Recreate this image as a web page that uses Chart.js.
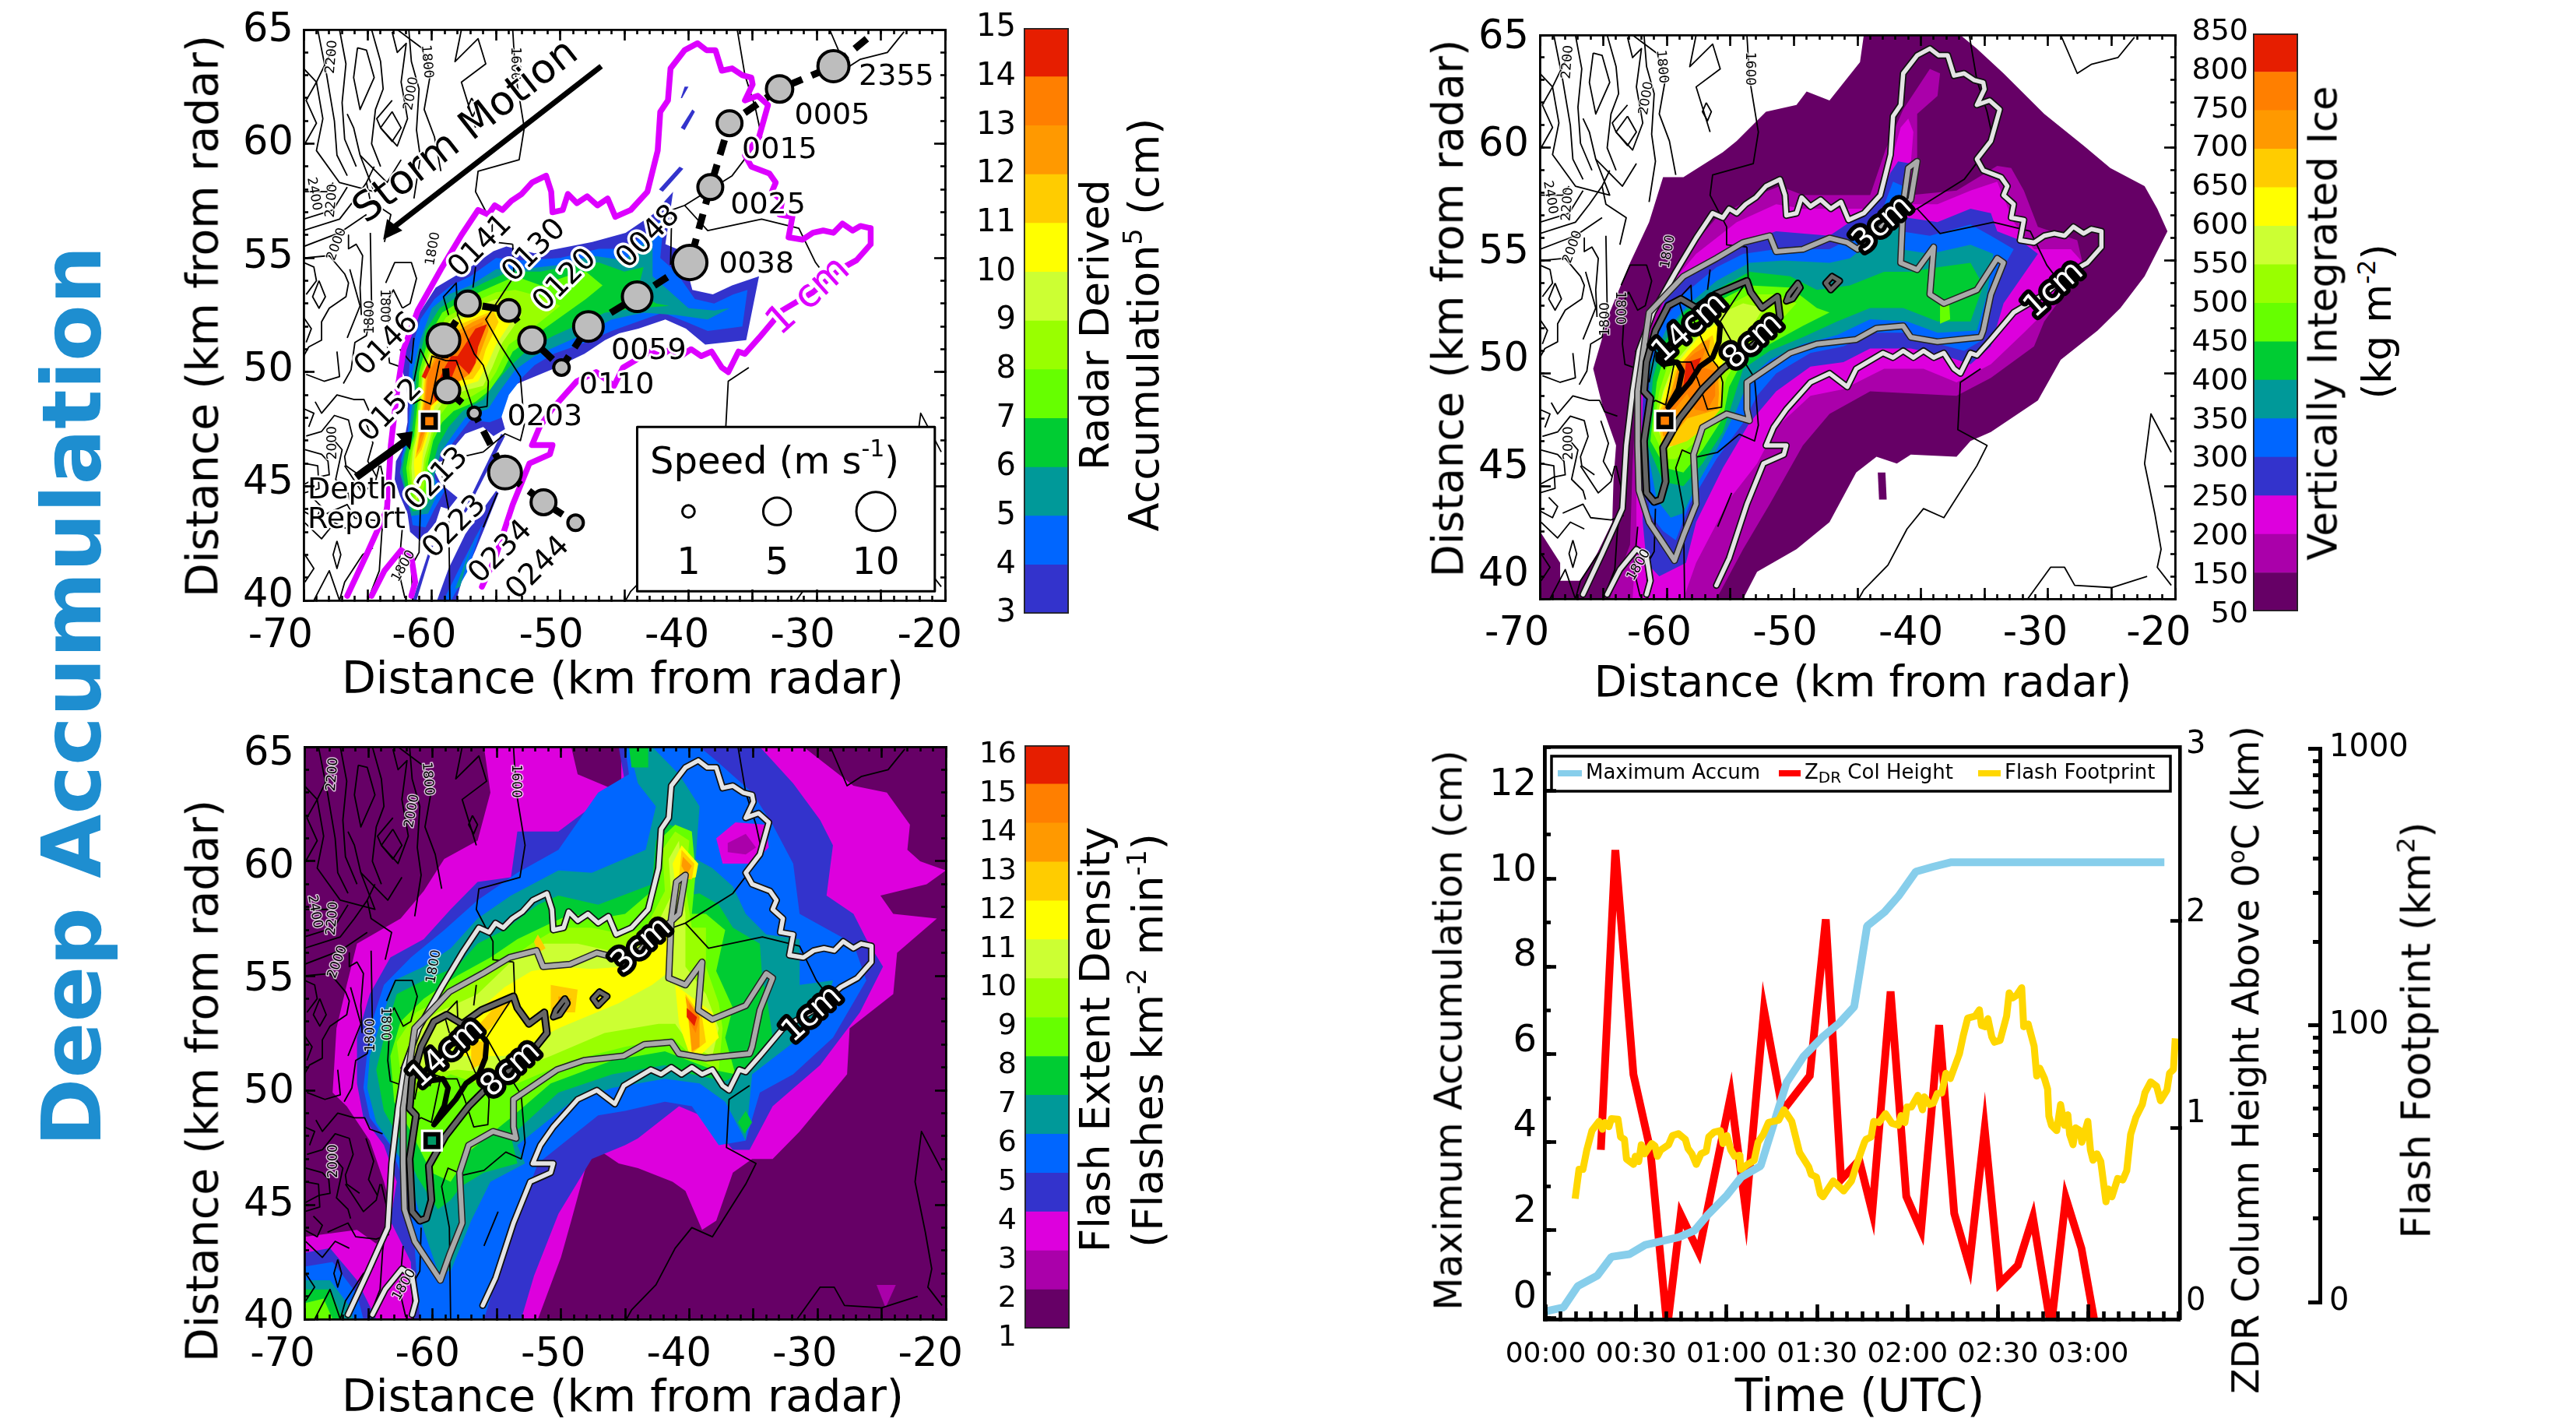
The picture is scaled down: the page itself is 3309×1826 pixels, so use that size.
<!doctype html>
<html><head><meta charset="utf-8">
<script src="https://cdn.jsdelivr.net/npm/chart.js@4"></script>
<style>
html,body{margin:0;padding:0;background:#fff}
#page{position:relative;width:3309px;height:1826px;overflow:hidden;background:#fff;font-family:"DejaVu Sans"}
#page canvas{position:absolute}
.t{position:absolute;white-space:nowrap;line-height:1;color:#000;transform-origin:center}
.t sup{font-size:.62em;line-height:0;vertical-align:.62em}
.t sub{font-size:.7em;line-height:0;vertical-align:-.25em}
</style></head><body><div id="page"></div>
<script>
// ---------- colour scales ----------
const palette=['#660066','#aa00aa','#dd00dd','#3333cc','#0066ff','#009999','#00cc33','#66ff00','#99ff00','#ccff33','#ffff00','#ffcc00','#ff9900','#ff7f00','#e61e00'];
const accumBarLabels=['3','4','5','6','7','8','9','10','11','12','13','14','15'];
const iceBarLabels=['50','150','200','250','300','350','400','450','500','550','600','650','700','750','800','850'];
const flashBarLabels=['1','2','3','4','5','6','7','8','9','10','11','12','13','14','15','16'];
// ---------- line panel ----------
const accumTimes=[0,5.9,10.6,17.1,21.8,27.8,33,44.2,49.4,53.7,60.1,64.8,71.3,79.9,85.5,91.9,97.5,102.3,104.3,106.6,112.4,117,122.8,128.5,134.3,205.2];
const accumValues=[.15,.24,.72,.96,1.39,1.45,1.66,1.84,1.99,2.34,2.79,3.2,3.46,5.36,5.95,6.4,6.72,7.08,7.92,8.92,9.24,9.6,10.16,10.27,10.37,10.37];
const zdrTimes=[18.3,23.1,29.1,32.6,34.7,40.3,44.8,50.8,61.4,66.4,72.4,78.6,87.6,92.9,98,104,108.3,114.4,119.6,124.5,130.5,135.5,140.5,145.6,150.6,156.6,161.6,167.6,172.5,177.7,182.4];
const zdrValues=[.893,2.345,1.258,1.03,.893,.03,.579,.396,1.157,.597,1.572,1.082,1.252,2.009,.748,.843,.591,1.66,.667,.503,1.497,.585,.333,.994,.245,.333,.566,.03,.66,.415,.03];
const flashTimes=[9.77,11.06,12.35,13.64,15.36,17.69,18.8,19.66,20.96,21.82,23.97,24.83,26.12,26.81,29.13,29.73,30.85,31.71,32.83,35.16,36.27,37.05,38.17,40.75,42.04,44.02,46.34,47.2,48.49,49.96,51.51,53.23,54.09,55.81,57.96,58.82,60.11,61.4,62.69,64.41,64.67,66.99,69.15,70.44,72.16,73.88,77.32,79.04,81.62,84.2,87.22,88.08,89.8,91.09,91.95,95.39,98.83,101.41,103.14,105.72,106.23,107.95,108.81,110.53,112.69,114.84,116.99,117.85,119.14,119.83,121.29,123.44,124.99,125.59,127.31,128.6,129.9,131.36,132.74,134.2,137.21,138.5,139.97,142.38,143.84,144.53,145.82,146.68,147.97,148.83,150.72,152.87,153.73,154.85,156.14,157.87,158.55,160.02,162,162.86,163.89,165.44,166.47,166.9,167.76,169.48,170.77,172.07,173.18,173.79,174.91,175.77,177.23,177.83,179.81,180.67,181.53,182.82,184.11,185.83,186.7,187.81,189.71,191.43,192.72,194.01,195.73,197.88,198.74,200.64,202.62,203.91,206.06,206.92,208.21,208.82];
const flashLog10=[1.372,1.478,1.478,1.548,1.618,1.651,1.623,1.647,1.632,1.661,1.659,1.595,1.586,1.515,1.496,1.525,1.506,1.567,1.534,1.571,1.562,1.525,1.548,1.567,1.6,1.607,1.586,1.553,1.534,1.496,1.534,1.543,1.595,1.612,1.618,1.571,1.6,1.548,1.525,1.529,1.478,1.496,1.51,1.576,1.604,1.647,1.656,1.693,1.651,1.539,1.487,1.459,1.45,1.389,1.379,1.436,1.4,1.436,1.496,1.576,1.586,1.595,1.651,1.647,1.679,1.644,1.637,1.672,1.647,1.703,1.703,1.745,1.693,1.74,1.712,1.717,1.752,1.754,1.825,1.806,1.895,1.961,2.024,2.031,2.054,1.998,1.993,2.022,1.956,1.937,1.944,2.031,2.115,2.097,2.106,2.134,1.993,2.003,1.923,1.815,1.843,1.806,1.768,1.67,1.637,1.618,1.712,1.637,1.675,1.604,1.567,1.628,1.618,1.576,1.651,1.548,1.511,1.534,1.506,1.361,1.407,1.379,1.445,1.44,1.473,1.604,1.665,1.712,1.754,1.794,1.778,1.726,1.764,1.825,1.839,1.951];
const timeTicks=['00:00','00:30','01:00','01:30','02:00','02:30','03:00'];
const zdrTickLabels=['0','1','2','3'];
// ---------- shared contours (km from radar) ----------
const accum1cm=[[-66.6,40.2],[-65.1,42],[-63.5,44],[-63.2,46.8],[-62.7,49.2],[-62.2,51],[-61.1,52.7],[-59.3,54.5],[-57.7,56],[-56.4,57.1],[-55.6,56.9],[-55.1,57.3],[-54.5,57.1],[-53.8,57.5],[-53,57.8],[-52.2,58.3],[-51.1,58.6],[-50.7,57.9],[-50.6,57],[-49.8,57.1],[-49.4,57.8],[-48.7,57.4],[-47.9,57.7],[-47.1,57.3],[-46.3,57.6],[-45.7,56.8],[-44.5,57.1],[-43.2,57.9],[-42.4,59.7],[-42.2,61.4],[-41.6,61.9],[-41.4,63.3],[-40.3,64.1],[-39.3,64.4],[-38.6,64.1],[-37.9,64.1],[-37.4,63.2],[-36.6,63.3],[-35.8,63],[-35.1,62.9],[-35,62.6],[-35.6,61.9],[-34.6,62.1],[-33.8,61.7],[-34.2,60.9],[-34.5,60.3],[-35.6,59.5],[-35.1,59],[-33.7,58.7],[-33.2,58.3],[-33.5,57.9],[-32.7,57.5],[-32.9,56.9],[-31.9,56.8],[-32.2,55.9],[-31.1,55.8],[-30.3,56.1],[-29.5,56.2],[-28.7,56.1],[-28,56.5],[-27.2,56.2],[-26.6,56.4],[-25.8,56.3],[-25.8,55.6],[-26.9,54.9],[-28.2,54.5],[-30.3,53.5],[-32.7,52.7],[-34.5,51.5],[-35.6,50.8],[-36.1,50.9],[-36.9,50],[-37.4,50.2],[-38.2,50.9],[-39,50.7],[-39.8,51],[-40.6,50.7],[-41.4,51],[-42.2,50.7],[-43,50.9],[-45.1,50.2],[-45.8,49.4],[-47.2,50],[-48.7,49.6],[-50.6,48.4],[-51.6,47.6],[-52.2,46.8],[-50.6,46.8],[-50.8,46.4],[-52.4,46],[-53.7,44.2],[-55.1,41.8],[-56.1,40.6]];
const accum1cmInner=[[-64.7,40.2],[-63.7,41.3],[-62.4,42.2],[-61.6,41.9],[-61.3,40.8],[-61.6,40.2]];
const accum3cm=[[-59.4,41.7],[-61.4,43.4],[-62.2,44.8],[-62.3,46.8],[-62.3,49.2],[-61.4,52.7],[-58.7,54.3],[-56.1,55.1],[-54,55.8],[-51.9,56.1],[-51.4,55.4],[-49.3,55.5],[-47.2,56],[-45.8,55.8],[-45,55.5],[-40.8,57.7],[-40.3,59.4],[-41,59.1],[-41.4,57.5],[-41.6,54.9],[-40.3,54.6],[-39,55.6],[-39.3,53.5],[-38.2,53.1],[-35.6,53.7],[-34,55.1],[-33.5,54.9],[-34.5,53.5],[-35.1,51.9],[-35.3,51.6],[-38.7,51.4],[-40.8,51.6],[-41.4,52.1],[-43.5,52],[-45.1,51.5],[-48.2,51.3],[-50.3,50.9],[-53.7,49.6],[-53.7,48.4],[-53.5,47.9],[-55.3,48.2],[-57.2,47.6],[-57.9,46.4],[-57.7,44.2],[-58.7,42.8],[-59.4,41.7]];
const accum8cm=[[-61,44.3],[-61.6,44.7],[-61.8,47],[-61.3,48.9],[-61.8,49.2],[-61.6,50.5],[-60.9,51.9],[-59.9,53],[-58.9,53.3],[-57.7,52.9],[-56.2,53.5],[-53.7,54.1],[-53.4,53.6],[-52.5,52.9],[-51.3,53.4],[-51.1,52.5],[-52.1,51.8],[-53.1,51.3],[-55.6,50.2],[-57.2,49.3],[-59,48],[-60.3,46.7],[-60.1,45.2],[-60.5,44.4],[-61,44.3]];
const accum8cmBlobA=[[-49.7,54],[-50.4,53.5],[-50.6,53.2],[-50.1,53.3],[-49.5,53.8],[-49.7,54]];
const accum8cmBlobB=[[-47,54.3],[-46.4,54.1],[-47.1,53.7],[-47.5,54],[-47,54.3]];
const accum14cm=[[-55.8,52.1],[-55.9,51.4],[-56.4,50.7],[-57.4,50.3],[-58.2,49.6],[-59.9,48.5],[-59.1,49.3],[-58.8,50.1],[-59.2,50.5],[-60.3,50.4],[-60.7,50.6],[-60.7,50.8],[-58.5,52],[-56.2,52.4],[-55.8,52.1]];
// ---------- terrain contours (km from radar) ----------
const terrain=[
[[-53.7,65],[-53.5,63.1],[-52.8,60.7],[-53.2,59.3],[-56.4,58.8],[-56.6,57.9],[-55.3,56.5],[-55.3,55.7],[-53.7,55.6]],
[[-53.7,55.6],[-53.6,54.2],[-55.8,52.3],[-54.8,51.3],[-53.1,49.8],[-52.8,47.7],[-53.1,47],[-54.3,47.3],[-56,46.5],[-57.6,46.3],[-58.8,46.6],[-59.3,45.8],[-58.7,44],[-58.6,40]],
[[-36.2,65],[-35.6,63],[-34.8,61.6],[-34.3,60.3],[-36.6,58.6],[-40.3,57.3],[-41.3,57.1],[-41.4,54.7]],
[[-40.3,57.3],[-38.5,56.2],[-34.3,56.7],[-31.4,56.3],[-30.1,54.8],[-29.3,54.2]],
[[-35.3,50.2],[-36.9,49.6],[-37.1,47.5],[-34.8,46.8],[-35.6,45.9],[-38.2,43.6],[-39.8,44],[-41.1,43.1],[-42.6,41.5],[-44.5,40.4],[-44.9,40]],
[[-31.6,40],[-29.8,41.4],[-28.7,41.4],[-27.9,40.6],[-25,40.5],[-22.2,41]],
[[-20.3,46.5],[-21.9,48.2],[-22.4,46],[-21.6,43.8],[-21.1,42.2],[-21.4,41.4],[-20.3,40.6]],
[[-29,65],[-27.7,63.3],[-26.6,63.7],[-24.5,64],[-23.2,64.9]],
[[-61.4,49.6],[-60.9,51],[-60.2,50.2],[-60,50.7],[-58.9,50.5],[-58.1,50.5],[-57.5,49.6],[-56.8,48.4],[-55.7,48.5],[-55.6,49.6],[-56,50.3],[-56.7,50.8],[-58,52.5],[-58.1,53.9],[-59.1,53.3],[-58.7,52.5]],
[[-59.4,50.5],[-60.1,48.6],[-60.9,48.8],[-61.5,48.6]],
[[-60.9,44],[-61,42.1],[-61.6,41.5],[-61.5,40]],
[[-54.9,44.7],[-56,43.2]],
[[-56.6,54.6],[-56.8,53.7]],
[[-62.5,51],[-61.6,50.4],[-61.4,51.5]],
[[-64.8,56.1],[-64.7,52.9],[-65.1,51.6],[-66,51.3],[-66.3,50.1],[-66.9,49.5]],
[[-68.8,54],[-68.3,53.3],[-68.8,52.8],[-69.3,53.3],[-68.8,54]],
[[-69.9,55],[-68,55.1],[-66.8,54.3],[-66.5,53.9],[-66.7,53.3],[-68,52.8],[-68.6,52.2],[-68.6,51.4],[-69.6,51.1],[-70,50.7]],
[[-66.5,56],[-66.5,55.4],[-65.9,55.6],[-65.4,55.1],[-65.6,53.7],[-65.5,52.5]],
[[-63.6,53.9],[-62.9,54.8],[-61.6,54.8],[-61.2,54.1],[-61.7,53],[-62.3,52.8],[-63,53.6],[-63.3,53.3],[-63.5,51.3],[-63.3,50.4],[-62.3,50.2]],
[[-69.1,48.7],[-68.6,48.2],[-67.4,49],[-66.1,48.8],[-65.3,48.8],[-64.9,48.3],[-63.9,48.1]],
[[-69.8,47.2],[-68.6,47.4],[-67.6,48.1],[-66.5,47.9],[-66.2,47.2],[-66.8,46.3],[-66.7,45.9],[-65.7,45.5]],
[[-69.9,46.6],[-68.6,46.4],[-68.1,46.1],[-68,45.5],[-68.9,45.4],[-69.9,45.1]],
[[-65.8,64.2],[-65.1,64.1],[-64.5,62.9],[-65.6,61.5],[-66.1,62.9],[-65.8,64.2]],
[[-63.1,64.9],[-62.7,64],[-62,64.4],[-62.4,62.7],[-61.9,61.1],[-62.7,59.9],[-64,60.7],[-64.3,61.1],[-63.1,61.9]],
[[-63.1,61.4],[-62.4,60.7],[-63.1,60.1],[-64,60.7],[-63.1,61.4]],
[[-56.9,62],[-56.5,61.6],[-56.8,61.2],[-57.2,61.6],[-56.9,62]],
[[-67.7,64.2],[-69,62.7],[-68.5,61.1],[-69,59.7],[-67.2,58.3],[-64.5,57.9],[-65.6,59.5],[-66.1,60.7],[-66.6,61.3]],
[[-65.6,59.5],[-63.5,58.3],[-62.4,59.3]],
[[-70,63.3],[-69,62.7],[-69.8,61.9],[-69,60.9],[-70,59.9]],
[[-62.7,65],[-60.8,64.2],[-60.1,63.1],[-60.6,61.5],[-59.8,60.3],[-59.3,58.8]],
[[-57.7,65],[-58.2,63.6],[-56.4,64.6],[-55.8,63.5],[-57.7,62.7],[-56.6,60.7]],
[[-64.5,59],[-65.1,58.3],[-64.8,57.5],[-63.2,56.9],[-63.7,55.7]],
[[-70,57.9],[-68.2,57.9],[-67.7,58.3]],
[[-70,56.7],[-67.7,57.1],[-66.6,58.1]],
[[-70,56.2],[-67.2,56.7],[-66.1,57.5],[-65.1,58.3]],
[[-70,55.5],[-67.2,56.1],[-65.1,56.9]],
[[-66.4,54.5],[-65.6,52.9],[-66.6,51.5]],
[[-69.9,46],[-68.9,45.9],[-68.8,44.9],[-70,44.7]],
[[-66.8,45.9],[-65.4,44.7],[-64.4,45.2],[-64.1,45.9]],
[[-68.2,43.8],[-66.6,44.2],[-66,43.6],[-64.4,43.5],[-63.4,43.7]],
[[-69.9,43.4],[-68.6,42.7],[-67.6,43.4],[-66.5,43.1]],
[[-67.4,42.6],[-67.1,42],[-67.4,41.4],[-67.7,42],[-67.4,42.6]],
[[-69.2,40],[-68,41.3],[-67.2,40],[-66.8,40.8],[-65.4,42],[-64.6,42.3]],
[[-69.9,40.8],[-69.2,41.4],[-69.9,42]],
[[-64,45.9],[-63.5,44.7],[-63.9,43],[-64.1,41.3],[-65,40]],
[[-62.3,43.2],[-62.6,41.3],[-62.1,40.1]],
[[-68.9,65],[-68.2,63],[-67.6,61],[-67.4,59.5],[-66.6,58.6]],
[[-67.2,65],[-66.7,63.5],[-67,61.8],[-66.8,60.2],[-65.9,59]],
[[-64.7,65],[-64,63.6],[-63.8,62.4],[-64.4,61.5],[-64.7,60],[-64,59]],
[[-61.8,65],[-61.6,63.6],[-61,62.4],[-61.2,60.6],[-60.9,59.4],[-61.4,57.6]],
[[-70,54.8],[-69.2,54.6],[-69,54],[-69.8,53.4]],
[[-70,52.4],[-69.4,51.9],[-69.8,51.3]],
[[-67.4,50.9],[-67.2,49.8],[-68.4,49.6],[-69.8,49.9]],
[[-70,48.4],[-69.2,48.2],[-69.6,47.6]],
[[-65.2,47.9],[-64.6,46.9],[-65,46.1],[-64.3,45.4]],
[[-67.6,47],[-67,46.6],[-67.5,45.3],[-66.6,44.8],[-66.4,44.4]],
[[-69.3,44.5],[-68.6,44.1],[-69,43.6],[-70,43.9]]
];
const terrainLabels=[['2200',-67.8,63.8,-85],['1800',-60.4,63.6,85],['2000',-61.6,62.2,-80],['1600',-53.5,63.5,90],['2400',-69.2,57.8,80],['2200',-67.8,57.5,-85],['2000',-67.4,55.6,-70],['1800',-59.9,55.4,-80],['1800',-64.8,52.4,-90],['1800',-63.7,52.9,90],['2000',-67.7,46.9,-90],['1800',-62.2,41.5,-60]];
// ---------- storm track ----------
const trackX=[-26.1,-28.7,-32.9,-36.8,-38.3,-39.9,-44,-47.8,-49.9,-52.2,-54,-57.2,-59.1,-58.8,-56.7,-54.3,-51.3,-48.8];
const trackY=[64.6,63.4,62.4,60.9,58.1,54.8,53.3,52,50.2,51.4,52.7,53,51.4,49.2,48.2,45.6,44.3,43.4];
const trackSpeed=[0,6.4,4.6,4.1,4.1,7.8,5.8,5.8,1.6,4.6,3.1,4.1,7.1,4.1,1,7.1,4.1,1.6];
const legendSpeeds=[1,5,10];
const legendSpeedX=[-40,-33.1,-25.4];
const legendSpeedY=[43.9,43.9,43.9];
const timeLabelsRot=[['0048',-43.1,55.9],['0120',-49.6,54],['0130',-52,55.3],['0141',-56.2,55.5],['0146',-63.5,51.2],['0152',-63.2,48.3],['0213',-59.6,45.3],['0223',-58.2,43.2],['0234',-54.6,42.1],['0244',-51.7,41.4]];
const timeLabelsFlat=[['2355',-23.8,62.9],['0005',-28.8,61.2],['0015',-32.9,59.7],['0025',-33.8,57.3],['0038',-34.7,54.7],['0059',-43.1,50.9],['0110',-45.6,49.4],['0203',-51.2,48]];
const stormArrow=[[-46.8,63.4],[-63.3,56.2]];
const stormHead=[[-63.8,55.8],[-63.5,56.7],[-62.3,56.2]];
const depthArrow=[[-65.9,45.4],[-62,47]];
const depthHead=[[-61.5,47.4],[-62.8,47.3],[-61.7,46.6]];
const legendBox=[[-44,47.6],[-20.8,47.6],[-20.8,40.4],[-44,40.4],[-44,47.6]];
// ---------- radar derived accumulation (cm) ----------
const acc3Main=[[-61.7,43],[-61.9,43.8],[-62.5,44.6],[-62.9,45.3],[-62.8,46.1],[-62.3,46.6],[-61.9,47.8],[-61.9,48.8],[-62,49.6],[-62.5,50.3],[-62.1,50.9],[-61.3,52.3],[-60.5,53],[-59.7,53.7],[-58.5,54.1],[-57,54.6],[-55.2,55.3],[-54.2,55.5],[-52,55.2],[-47.5,55.7],[-44.9,56.1],[-42.8,56.9],[-41.2,57.9],[-41.8,55.6],[-40.5,55.3],[-39.7,53.6],[-38.1,53.4],[-36.6,53.8],[-34.5,54.2],[-35,52.8],[-35.5,51.4],[-38.7,51.2],[-40.2,51.9],[-41.8,52.3],[-43.9,51.9],[-45.4,51.7],[-46.5,51.4],[-48.1,50.8],[-50.7,50.1],[-53.3,49.5],[-54.4,49.2],[-54.2,48.8],[-54.6,48.1],[-54.3,47.5],[-55.2,47.2],[-56,47.6],[-57.4,47.3],[-59.2,46.1],[-60.1,46],[-59.3,45.1],[-58,44.5],[-58.7,44],[-59.3,44.1],[-59.7,43.4],[-60.9,42.6]];
const acc3Strip=[[-59.6,40],[-58.7,41.4],[-57.4,42.9],[-56.4,43.7],[-55,44.8],[-54.8,44.7],[-55.8,43.3],[-56.6,42.2],[-57.7,40.8],[-58.1,40]];
const acc3StreakA=[[-57.7,43.7],[-54.6,47.3],[-54.3,47.2],[-57.3,43.9]];
const acc3StreakB=[[-40.3,62.5],[-40,62.5],[-40.5,62],[-40.6,62]];
const acc3StreakC=[[-39.7,61.5],[-39.5,61.4],[-40.3,60.6],[-40.6,60.7]];
const acc3StreakD=[[-40.7,59],[-40.4,58.9],[-42,57.9],[-42.3,58]];
const acc3StreakE=[[-61.5,40],[-61.2,40],[-59.9,42.4],[-60.1,42.4]];
const acc4=[[-61.5,43.3],[-61.8,44.4],[-62.3,45.3],[-62.4,46.2],[-61.9,47.2],[-61.7,48.7],[-61.8,49.8],[-61.7,50.8],[-60.9,52.3],[-59.8,53.2],[-58.5,53.8],[-57,54.2],[-55,55],[-53,54.9],[-50,55],[-47,55.4],[-45,55.4],[-43,56.2],[-41.9,56.8],[-42.2,55],[-41,54.4],[-39.5,53.2],[-38,53],[-36.5,53.4],[-35.4,53.6],[-35.8,52],[-38.5,51.8],[-40.2,52.2],[-42,52.6],[-44,52.2],[-46,51.8],[-48,51.3],[-50.5,50.8],[-52,50.3],[-52.9,49.8],[-54,49],[-54.6,48],[-55.5,47.8],[-57,47.9],[-58.5,46.8],[-60,46.4],[-60,45.5],[-59,44.8],[-59.8,44],[-60.5,43.2]];
const acc4Strip=[[-59.1,40],[-57.6,41.7],[-56,43.4],[-57.2,41.3],[-58.5,40]];
const acc5=[[-61.6,43.7],[-62,44.6],[-62.5,45.6],[-62.2,46.4],[-61.8,47.2],[-61.5,48.7],[-61.5,50],[-60.9,51.4],[-60,52.8],[-58.7,53.4],[-57,53.8],[-55,54.5],[-53,54.5],[-50,54.7],[-47.5,55.1],[-45,54.9],[-43.5,55.6],[-42.8,56],[-42.8,54.2],[-41,53.3],[-40,52.8],[-38,52.7],[-36.8,52.8],[-38.5,52.3],[-41,52.5],[-43.5,52.6],[-46,52.3],[-48,51.7],[-50,51.2],[-52,50.7],[-53.5,50.1],[-54.8,49.1],[-55.6,48.4],[-57.4,48],[-58.3,47.3],[-59.3,46.5],[-59.8,45.5],[-59.7,44.5],[-60.3,43.8]];
const acc5Strip=[[-58.2,40.5],[-56.4,43.1],[-57.1,42],[-57.8,40.6]];
const acc6=[[-61.5,43.9],[-62,44.7],[-62.3,45.7],[-62.1,46.4],[-61.6,47.2],[-61.3,48.7],[-61.2,50],[-60.5,51.8],[-59.4,52.8],[-58,53.3],[-56,53.9],[-54,54.4],[-51.5,54.4],[-49,54.7],[-47,54.8],[-45,54.4],[-43.5,54.6],[-44,53.5],[-42.5,53],[-41.5,52.9],[-44,52.8],[-46.5,52.6],[-48.5,52.1],[-50.5,51.6],[-52.5,51],[-54,50.2],[-55.1,49.5],[-56,48.8],[-57.6,48.3],[-58.7,47.6],[-59.5,46.8],[-60,45.8],[-60,44.6],[-60.6,44]];
const acc7=[[-61.4,44],[-61.8,44.8],[-62,45.8],[-61.8,46.5],[-61.4,47.2],[-61.1,48.7],[-61,50],[-60.2,51.6],[-59.2,52.6],[-57.5,53.2],[-55.5,53.7],[-53.5,54.2],[-51.5,53.8],[-49.5,54.2],[-48,54.4],[-46.7,53.8],[-48,53.2],[-50,52.4],[-52,51.6],[-53.7,50.9],[-54.5,50],[-55.5,49.2],[-56.6,48.7],[-58.3,48.3],[-59.2,47.8],[-59.9,47],[-60.3,46],[-60.3,44.8],[-60.8,44.2]];
const acc8=[[-61.3,44.2],[-61.6,45],[-61.8,45.8],[-61.6,46.5],[-61.3,47.2],[-61,48.7],[-60.8,50],[-60,51.4],[-58.9,52.4],[-57,53],[-55,53.5],[-53.5,53.6],[-51.5,53.3],[-50,52.9],[-52,52],[-54,51.2],[-55,50],[-55.8,49.3],[-57,48.9],[-58.7,48.6],[-59.5,48],[-60,47.1],[-60.5,46],[-60.6,45],[-60.9,44.5]];
const acc9=[[-61.2,44.4],[-61.5,45],[-61.6,45.8],[-61.5,46.5],[-61.2,47.2],[-60.9,48.7],[-60.7,50],[-59.7,51.5],[-58.5,52.3],[-56.8,52.8],[-55,53.2],[-53.5,53.2],[-53,52.5],[-54.5,51.3],[-55.3,50.2],[-56,49.4],[-57.4,49.2],[-59,48.8],[-59.6,48.3],[-60.1,47.2],[-60.6,46.2],[-60.8,45.2]];
const acc10=[[-61.1,44.5],[-61.3,45.2],[-61.4,46],[-61.3,46.7],[-61.1,47.3],[-60.8,48.7],[-60.6,50],[-59.5,51.5],[-58.3,52.2],[-56.5,52.6],[-55,53],[-54,52.9],[-53.7,52.3],[-55,51.2],[-55.7,50.3],[-56.4,49.6],[-57.6,49.4],[-59,48.9],[-59.8,48.5],[-60.2,47.4],[-60.7,46.5],[-60.9,45.3]];
const acc11=[[-61.3,46.2],[-61,47.3],[-60.7,48.7],[-60.5,50],[-59.3,51.5],[-58.2,52],[-56.5,52.4],[-55.2,52.7],[-54.8,52.2],[-55.8,51],[-56.2,50.2],[-56.8,49.7],[-58,49.6],[-59,48.9],[-60,48.8],[-60.3,47.5],[-60.8,46.6]];
const acc12=[[-61.2,46.4],[-60.9,47.4],[-60.6,48.7],[-60.4,49.9],[-59.2,51.3],[-58,51.8],[-56.8,52.2],[-55.6,52.5],[-55.6,51.8],[-56.4,50.6],[-56.9,50],[-57.8,49.8],[-58.8,49.5],[-60.1,48.9],[-60.4,47.6],[-60.9,46.7]];
const acc13=[[-61,47],[-60.7,47.7],[-60.5,48.7],[-60.3,49.9],[-59.2,51],[-58,51.6],[-56.8,52],[-56,52.2],[-56.3,51.4],[-56.7,50.4],[-57.1,49.9],[-58.4,49.4],[-60.1,48.5],[-60.4,47.6]];
const acc14=[[-58,50.7],[-56.6,51.9],[-55.7,52.1],[-56.4,51.1],[-56.6,50.4],[-57.1,49.9],[-58,50.4],[-58.5,49.7],[-59.3,49.2],[-59.7,48.7],[-59.9,49],[-59.1,50.1],[-58.5,50.7]];
const acc14Streak=[[-60.8,49.8],[-60.3,50.4],[-60.1,50.2],[-60.5,49.7]];
const accumLayers=[[3,acc3Main],[3,acc3Strip],[3,acc3StreakA],[3,acc3StreakB],[3,acc3StreakC],[3,acc3StreakD],[3,acc3StreakE],[4,acc4],[4,acc4Strip],[5,acc5],[5,acc5Strip],[6,acc6],[7,acc7],[8,acc8],[9,acc9],[10,acc10],[11,acc11],[12,acc12],[13,acc13],[14,acc14],[14,acc14Streak]];
// ---------- vertically integrated ice (kg m-2) ----------
const ice50=[[-44.5,65],[-44.8,63.8],[-47.2,62.1],[-49,62.5],[-49.8,61.9],[-52.2,61.6],[-54.5,60.3],[-55.6,59.8],[-58.7,58.7],[-60.3,58.7],[-61.4,56.7],[-62.9,54.9],[-64.5,52.7],[-65.8,50.2],[-65,48.4],[-64,46.8],[-64.2,45.3],[-64.3,43.4],[-65.5,42],[-66.8,40.8],[-68.4,40.8],[-68.4,41.6],[-70,43],[-70,40],[-54,40],[-52.9,41.2],[-49.8,42.2],[-47.2,43.4],[-45.1,45.6],[-43.5,46.3],[-41.9,46],[-40.8,46.4],[-37.2,46.3],[-36.1,47],[-34.5,47.4],[-30.8,48.8],[-29,50.6],[-26.1,51.9],[-24.3,52.9],[-22.4,54.3],[-20.6,56.3],[-21.4,57.3],[-22.4,58.3],[-25.1,59.1],[-27.2,60.1],[-30.3,61.5],[-33.5,63.3],[-35.6,64.4],[-36.9,65]];
const ice50Spot=[[-43.4,45.6],[-42.8,45.6],[-42.7,44.4],[-43.3,44.4]];
const ice150=[[-64.5,40],[-62.9,42.4],[-62.7,46],[-62.4,48.8],[-62.2,51.2],[-60.6,53.5],[-58.2,55.5],[-56.1,56.9],[-52.9,57.9],[-51.1,58.3],[-49.3,57.9],[-44,57.9],[-42.8,59.9],[-41.4,61.7],[-39.3,63.5],[-38.5,63.3],[-38.7,62.3],[-40.3,61.5],[-40.3,59.5],[-40.8,57.9],[-37.2,58.1],[-34,59.2],[-32.9,59.1],[-31.9,58.1],[-30.8,56.5],[-27.7,55.9],[-27.2,54.7],[-30.3,52.3],[-31.1,51.2],[-34.5,49.8],[-37.2,49],[-44,49.2],[-47.2,48.2],[-49.3,46.8],[-51.9,44.2],[-54,42.2],[-56.1,40]];
const ice200=[[-62.7,40],[-62.4,42.8],[-62.4,46],[-62.2,48.8],[-61.5,51.2],[-59.8,53.9],[-57.7,55.3],[-54.5,56.7],[-51.4,57.5],[-49.3,57.3],[-44,57.3],[-42.5,59.1],[-41.6,60.9],[-41,61.3],[-40.6,60.7],[-40.8,59.3],[-41.5,57.5],[-38.7,57.5],[-36.1,58.1],[-34,58.5],[-32.7,56.7],[-31.1,55.5],[-28.2,55.5],[-27.4,55],[-30.3,52.7],[-31.9,51.8],[-34.5,50.4],[-37.2,49.6],[-39.8,50.2],[-42.9,50.2],[-46.1,49.3],[-48.7,49],[-51.4,47.6],[-52.9,46],[-55.1,44.4],[-57.7,41.6],[-58.7,40]];
const ice250=[[-61.9,43.4],[-62,46.8],[-61.8,50.8],[-60.8,52.3],[-59.8,53.7],[-57.2,54.9],[-54,55.8],[-51.4,56.3],[-47.2,56.1],[-45.6,56.7],[-43.2,57.8],[-42.4,58.9],[-41.8,59.4],[-40.8,59.3],[-41.1,56.9],[-38.7,56.7],[-36.1,57.3],[-34.5,57.1],[-34,56.3],[-32.2,55.9],[-30.8,55.3],[-33.5,53.1],[-34.5,51.2],[-36.1,50.4],[-38.2,50.8],[-40.8,51.1],[-44,51.1],[-46.1,50.5],[-48.7,50.3],[-51.4,49.2],[-53.5,47.8],[-55.6,45.8],[-57.7,43.4],[-58.5,41.6],[-60.6,41],[-61.6,41.6]];
const ice300=[[-61.4,43.8],[-61.4,46.8],[-61.4,50.8],[-60.3,52.3],[-58.7,53.5],[-56.1,54.7],[-54,55.3],[-51.4,55.5],[-47.2,55.5],[-45.1,56.1],[-43,57.3],[-42.2,58.5],[-41.4,58.3],[-41.6,56.3],[-39.3,56.1],[-36.1,56.6],[-34.5,56.1],[-32.7,55.5],[-33.5,54.7],[-34.5,53.1],[-35.1,51.5],[-36.6,51],[-39.3,51.4],[-41.4,51.8],[-44,51.8],[-46.1,51.2],[-48.7,50.9],[-51.4,50],[-52.9,49],[-54,47.8],[-56.1,46.2],[-58.2,44.2],[-59.3,42.6],[-60.3,43]];
const ice350=[[-60.8,44.4],[-61.6,46.8],[-61.3,50.4],[-60.1,51.9],[-58.2,53.1],[-56.1,54.1],[-53.5,54.9],[-50.8,55],[-47.2,54.9],[-45.6,55.1],[-42.9,56.3],[-41.6,57.3],[-41.6,55.5],[-39.3,55.3],[-36.1,55.7],[-34.3,55.3],[-34.8,53.5],[-35.6,51.9],[-38.7,51.8],[-41.1,52.3],[-44,52.4],[-46.6,51.7],[-49.3,51.3],[-51.9,50.6],[-53.5,49.8],[-54.5,48.4],[-56.1,46.6],[-57.7,45],[-58.7,43.8],[-59.7,43.6]];
const ice400=[[-60.3,45.2],[-61.5,46.8],[-61.1,49.8],[-60.3,51.3],[-58.7,52.7],[-56.1,53.7],[-53.5,54.5],[-50.3,54.3],[-48.2,53.7],[-45.6,53.9],[-42.9,54.5],[-40.8,54.5],[-38.7,54.7],[-36.1,54.9],[-35.1,53.9],[-36.1,52.3],[-38.7,52.3],[-41.4,52.9],[-44,52.9],[-46.6,52.3],[-49.3,51.6],[-51.9,51],[-54,50.2],[-54.8,48.8],[-55.6,47.4],[-57.2,46],[-58.7,45]];
const ice450=[[-60.1,45.8],[-61.3,47],[-60.8,49.6],[-60.1,51],[-57.7,52.7],[-55.6,53.3],[-53.5,53.9],[-50.3,53.8],[-48.2,52.9],[-47.2,52.7],[-49.3,52.1],[-51.9,51.3],[-54,50.6],[-55.1,49.4],[-55.6,48],[-57.2,46.6],[-58.7,45.6]];
const ice450Spot=[[-38.5,53],[-37.8,53.3],[-37.7,52.4],[-38.5,52.2]];
const ice500=[[-60.1,46.2],[-61.1,47.4],[-60.6,49.2],[-59.8,50.6],[-57.7,52.1],[-55.6,52.9],[-53.5,53.5],[-51.4,53.5],[-49.8,53.1],[-51.9,51.8],[-54,51],[-55.3,49.8],[-56.1,48.2],[-57.7,47],[-59.3,46.2]];
const ice550=[[-60.1,46.6],[-60.9,47.8],[-60.3,49.2],[-59.5,50.4],[-57.4,51.8],[-55.6,52.7],[-54,53.1],[-52.4,52.9],[-53.5,51.9],[-55.1,51],[-55.8,50],[-56.6,48.4],[-58.2,47.2]];
const ice600=[[-60.1,47],[-60.7,48.2],[-60.2,49.2],[-59.5,50.2],[-57.4,51.7],[-56.1,52.2],[-55.8,51.5],[-55.6,50.6],[-55.8,49.8],[-56.9,48.6],[-58.5,47.3]];
const ice650=[[-60.4,46.7],[-60.7,48.2],[-59.9,49.1],[-59.4,50.1],[-58.2,50.8],[-57.4,51.3],[-56.4,51.7],[-56.2,51.2],[-56.6,50.5],[-55.8,50.3],[-55.7,49.1],[-55.8,48.4],[-57,47.6],[-58.4,47],[-59.4,46.8]];
const ice700=[[-60.3,47.2],[-60.5,48.2],[-59.7,49.1],[-59.1,50.3],[-58,51],[-57.2,51.4],[-56.6,51.5],[-56.8,50.6],[-56,50.4],[-55.9,49.1],[-56,48.4],[-57.2,48.2],[-58.4,48],[-59.4,47.3]];
const ice750=[[-59.9,48.3],[-59,49.3],[-58.8,50.4],[-57.8,50.9],[-56.9,51.2],[-57.4,50.3],[-56.2,50.1],[-56.2,49],[-56.9,48.3],[-57.8,48.4],[-58.4,49.1],[-59.4,48.4]];
const ice800=[[-59.7,48.5],[-58.7,49.5],[-58.5,50.5],[-57.8,50.6],[-57.3,50.7],[-57.8,49.9],[-58.6,49.2]];
const iceLayers=[[0,ice50],[1,ice150],[0,ice50Spot],[2,ice200],[3,ice250],[4,ice300],[5,ice350],[6,ice400],[7,ice450],[7,ice450Spot],[8,ice500],[9,ice550],[10,ice600],[11,ice650],[12,ice700],[13,ice750],[14,ice800]];
// ---------- flash extent density (flashes km-2 min-1) ----------
const flash1=[[-70,40],[-20,40],[-20,65],[-70,65]];
const flash2Patch=[[-37,60.8],[-35.6,61.2],[-34.8,60.6],[-35.6,60.3],[-37,60.4]];
const flash2PatchB=[[-25.4,41.5],[-23.9,41.5],[-24.7,40.5]];
const flash3=[[-56,65],[-55.5,63],[-56.5,60.9],[-59.1,60.1],[-60.7,58.7],[-62.5,57.5],[-65.9,56.4],[-66.7,54.6],[-67.5,52.7],[-67.8,49.9],[-66.7,49.3],[-64.9,47.8],[-63.8,46],[-63,44.3],[-64.4,43.3],[-65.9,43.9],[-70,43.6],[-70,40],[-51.8,40],[-50,42.7],[-49.2,44.3],[-47.6,47.6],[-45.5,46.8],[-44,46.6],[-41.3,46],[-40.3,45.6],[-39,43.9],[-37.9,44.3],[-36.6,46.4],[-35.1,47],[-33.5,47],[-31.4,48.2],[-27.7,50.7],[-27.5,52.7],[-24.1,54.2],[-23.8,56],[-20.7,57.5],[-24.1,57.7],[-25.1,58.5],[-21.5,59],[-20,59.6],[-22,60],[-23,60.5],[-22.8,61.6],[-24.6,63],[-27.2,63.3],[-31.1,65],[-45.3,65],[-45.3,63],[-48.7,63.8],[-49.2,65]];
const flash3Hole=[[-37.9,61],[-36.4,61.7],[-34,61.6],[-33.8,60.6],[-35.1,59.9],[-37.4,59.9]];
const flash4=[[-45.5,65],[-45,63.4],[-47.1,62.6],[-50.2,61.3],[-53.4,61.3],[-53.9,59.3],[-56.5,59.1],[-58.6,57.9],[-60.7,56.6],[-63.3,55.8],[-64.9,54.2],[-65.9,52.3],[-65.9,50.3],[-65.4,48.8],[-63.8,47.6],[-62.8,46],[-63.3,44.3],[-61.7,42.5],[-61.5,40],[-53.1,40],[-52.1,41.9],[-50.2,44.6],[-47.6,47],[-45,47.6],[-44,47.9],[-40.8,49.3],[-38.7,48.8],[-36.6,47.4],[-35.3,47.4],[-33.5,49.3],[-29.8,51.1],[-26.7,53.4],[-24.9,55.4],[-26.2,56.6],[-27.2,57.7],[-29.3,58.5],[-28.8,60.7],[-29.8,61.8],[-31.9,63.4],[-34.5,65]];
const flash5=[[-45,65],[-44.7,63.8],[-47.1,63],[-50.2,60.5],[-53.4,59.5],[-56.5,58.3],[-59.1,57],[-61.7,55.8],[-63.8,54.6],[-64.9,52.7],[-65.4,50.1],[-64.9,48.8],[-63.3,47.6],[-62,45.6],[-61.5,43.9],[-61,40],[-56,40],[-54.4,42.9],[-51.8,46.8],[-47.1,48.9],[-45,49.1],[-41.9,49.5],[-39.8,49.3],[-37.7,47.6],[-35.6,47.8],[-34.5,49.9],[-31.9,50.7],[-28.8,52.3],[-26.2,54.8],[-27.2,56.4],[-31.4,57.7],[-31.9,59.9],[-33.5,61.6],[-35.1,63],[-37.9,64.4],[-39.2,65]];
const flash6=[[-44.7,65],[-44,63.4],[-42.6,62.4],[-43.4,60.5],[-47.6,59.5],[-50.2,59.6],[-53.9,58.5],[-56.5,57.5],[-58.6,56.2],[-60.7,55.4],[-63,54.8],[-63.8,53.4],[-64.9,51.5],[-65.1,50.1],[-64.4,48.6],[-62.5,47],[-61.5,45.6],[-60.7,43.9],[-59.6,42.1],[-58.6,42.1],[-57,44.3],[-55.5,46],[-52.8,46.8],[-53.4,47.6],[-49.2,49.5],[-46,50.1],[-41.9,50.5],[-39.2,50.3],[-37.2,49.5],[-35.6,47.8],[-35.1,50.7],[-31.4,52.3],[-29.3,53.8],[-28.8,54.8],[-31.4,54.6],[-31.4,56.6],[-34,56.8],[-35.6,57.7],[-36.6,58.9],[-38.2,59.7],[-39.5,60.1],[-39.2,62.4],[-40.8,63.8],[-42.9,65]];
const flash7Top=[[-44.7,65],[-43.2,65],[-43.2,64.1],[-44.5,64.1]];
const flash7=[[-41.6,61.6],[-42.6,60.9],[-42.9,59],[-47.1,58.1],[-50.2,58.5],[-51.8,58.1],[-54.4,57],[-56.5,56.4],[-58.1,55.4],[-60.7,54.8],[-62.8,54.2],[-63.6,52.7],[-64.4,50.9],[-63.8,49.1],[-62.3,47.6],[-61.2,46.2],[-59.6,44.8],[-58.6,45.2],[-57.8,45.8],[-56,46.4],[-53.4,46.8],[-53.9,48],[-50.2,49.9],[-46,50.7],[-41.9,51.1],[-39.8,50.7],[-37.2,50.4],[-35.6,50.9],[-33.5,52.3],[-34,54.2],[-34.3,54.8],[-34.5,56.4],[-36.6,57.1],[-37.7,58.1],[-39.2,58.6],[-40.3,58.5],[-39.8,60.3],[-40.3,61.4]];
const flash7Spike=[[-35.6,49.1],[-35.1,48.6],[-35.7,48.1],[-36.2,48.6]];
const flash8=[[-41.1,61.6],[-42.4,60.9],[-42.5,58.9],[-45,57.7],[-47.1,57.5],[-49.2,57.7],[-50.8,57.3],[-53.4,56.6],[-55.5,55.8],[-58.1,55],[-60.7,54],[-62.5,53],[-63.3,51.5],[-63,49.5],[-61.7,48.2],[-60.1,46.4],[-58.6,46],[-57,47.4],[-53.9,48.8],[-50.8,50.3],[-46,51.3],[-41.9,51.7],[-38.2,50.9],[-36.4,50.7],[-37.2,52.3],[-36.6,53.6],[-37.9,55.2],[-37.2,57],[-38.7,57.7],[-39.8,57.7],[-39.5,59.5],[-39.8,61.3]];
const flash9=[[-41.1,61.3],[-42.1,60.5],[-41.9,58.7],[-43.4,57.1],[-45,56.8],[-47.6,57.1],[-50.2,57.1],[-52.3,56.4],[-54.9,55.4],[-58.6,54.2],[-61.3,53.4],[-62.8,52.1],[-62.5,50.7],[-61.2,49.9],[-58.6,50.7],[-56.5,50.3],[-53.4,50.3],[-49.2,51.3],[-45,51.9],[-41.3,52.3],[-39.8,51.5],[-37.7,50.9],[-37.4,52.7],[-37.7,53.8],[-38.7,55.4],[-38.7,57.1],[-39.8,57.1],[-40.3,58.9],[-40,60.9]];
const flash10=[[-40.8,60.9],[-41.6,60.1],[-41.4,58.5],[-42.9,56.8],[-45.5,56],[-48.7,56.4],[-51.3,56.4],[-53.9,55.6],[-56.5,54.2],[-59.6,53.4],[-61.5,52.7],[-62,51.3],[-60.7,50.7],[-58.1,50.9],[-54.4,50.7],[-50.8,51.5],[-46.6,52.5],[-42.4,52.9],[-41.1,52.9],[-39.8,51.9],[-38.2,51.5],[-37.7,52.7],[-38.7,54.2],[-40.3,55.4],[-40.3,57.7],[-40.6,59.3]];
const flash11Main=[[-42.4,57.3],[-43.5,56],[-45,55.4],[-47.6,55.3],[-50.2,55.4],[-52.3,55.2],[-54.4,54.5],[-57,53.2],[-58.6,52.3],[-57.6,51.5],[-54.4,51.5],[-50.2,52.7],[-45.5,53.8],[-42.9,54.6],[-41.5,55.2],[-41.5,56.5]];
const flash11Top=[[-40.6,60.7],[-39.3,59.9],[-39.5,59.3],[-41.1,59.1],[-41.3,59.9]];
const flash11Low=[[-41.1,54.6],[-38.2,53.4],[-37.7,52.3],[-39,51.6],[-40,51.6],[-40.8,52.9]];
const flash12Top=[[-40.6,60.5],[-39.6,59.9],[-39.8,59.2],[-40.8,59.3]];
const flash12A=[[-54.9,53.8],[-53.6,54],[-55.5,52.7],[-57,52],[-56.5,52.8]];
const flash12B=[[-50.8,54.6],[-48.7,54.4],[-48.9,53.4],[-50.8,53.4]];
const flash12C=[[-57,52.2],[-56,52.1],[-55.7,51.3],[-57,50.9]];
const flash12Low=[[-40.3,54.2],[-39,53.2],[-38.7,52.1],[-39.8,51.6],[-40,52.7]];
const flash12Spot=[[-51.8,56.8],[-51.2,56.2],[-51.8,56],[-52.1,56.5]];
const flash13Low=[[-40.3,54.1],[-39.2,53.2],[-39.2,51.9],[-39.8,51.7],[-40,52.9]];
const flash13Top=[[-40.5,60.2],[-39.8,59.8],[-40.2,59.4],[-40.6,59.8]];
const flash13Blob=[[-50.2,54.1],[-49.2,54],[-49.5,53.6],[-50.2,53.6]];
const flash14Low=[[-40,53.8],[-39.2,53.2],[-39.5,52.5],[-40,53]];
const flash15Low=[[-40.2,53.6],[-39.4,53.2],[-39.6,52.8],[-40.2,53.2]];
const flashCorner4=[[-70,42.9],[-68,43.1],[-65.9,41.7],[-64.4,40],[-70,40]];
const flashCorner5=[[-70,42.3],[-67.8,42.5],[-65.9,41.1],[-65.4,40],[-70,40]];
const flashCorner6=[[-70,41.7],[-68,41.7],[-66.4,40.5],[-66.2,40],[-70,40]];
const flashCorner7=[[-70,41.3],[-68,41.3],[-67,40],[-70,40]];
const flashCorner8=[[-70,40.7],[-68.5,40.9],[-67.8,40],[-70,40]];
const flashLayers=[[0,flash1],[2,flash3],[1,flash2PatchB],[3,flash4],[4,flash5],[2,flash3Hole],[1,flash2Patch],[5,flash6],[6,flash7Top],[6,flash7],[6,flash7Spike],[7,flash8],[8,flash9],[9,flash10],[10,flash11Main],[10,flash11Top],[10,flash11Low],[11,flash12Top],[11,flash12A],[11,flash12B],[11,flash12C],[11,flash12Low],[11,flash12Spot],[12,flash13Low],[12,flash13Top],[12,flash13Blob],[13,flash14Low],[14,flash15Low],[3,flashCorner4],[4,flashCorner5],[5,flashCorner6],[6,flashCorner7],[7,flashCorner8]];
// ---------- contour labels ----------
const iceContourLabels=[['3cm',-43,56.6],['1cm',-29.5,53.7],['14cm',-58.2,52],['8cm',-53.2,51.4]];
const flashContourLabels=[['3cm',-43.7,56.3],['1cm',-30.4,53.3],['14cm',-58.9,51.6],['8cm',-53.9,50.9]];
const xTickLabels=['-70','-60','-50','-40','-30','-20'];
const yTickValues=[40,45,50,55,60,65];
// where each bottom-axis label sits along the km axis of each map
const accumXLabelAt=[-71.8,-60.6,-50.7,-40.9,-31.1,-21.2];
const iceXLabelAt=[-71.8,-60.6,-50.7,-40.8,-31,-21.3];
const flashXLabelAt=[-71.7,-60.4,-50.6,-40.8,-31,-21.2];

// ---------- helpers ----------
const FONT='"DejaVu Sans"';
const page=document.getElementById('page');
Chart.defaults.font.family=FONT;
const pts=a=>a.map(([x,y])=>({x,y}));
const poly=(a,c)=>({data:pts(a),showLine:true,fill:'shape',backgroundColor:c,borderWidth:0,pointRadius:0,tension:0,clip:0});
const line=(a,c,w,extra)=>Object.assign({data:pts(a),showLine:true,fill:false,borderColor:c,borderWidth:w,pointRadius:0,tension:0,clip:0,borderJoinStyle:'round',borderCapStyle:'round'},extra||{});
const zero=s=>{if(s.isHorizontal())s.height=0;else s.width=0;s.paddingLeft=s.paddingRight=s.paddingTop=s.paddingBottom=0;s._computeLabelArea=()=>undefined;};
const tickAxis=(axis,pos,min,max,step,len,w)=>({axis,position:pos,type:'linear',min,max,afterFit:zero,
  grid:{drawOnChartArea:false,drawTicks:len>0,tickLength:-len,tickWidth:w,tickColor:'#000',z:1},
  border:{display:true,width:w,color:'#000',z:1},
  ticks:{display:false,stepSize:step,autoSkip:false,includeBounds:false}});
const labelAxis=(axis,pos,min,max,values,texts,size,pad)=>({axis,position:pos,type:'linear',min,max,afterFit:zero,
  grid:{drawOnChartArea:false,drawTicks:false},border:{display:false},
  afterBuildTicks:s=>{s.ticks=values.map(v=>({value:v}));},
  ticks:{display:true,autoSkip:false,maxRotation:0,minRotation:0,padding:pad,color:'#000',z:2,font:{family:FONT,size},
    callback:(v,i)=>texts[i]}});
function drawText(ctx,t,x,y,o){ctx.save();ctx.translate(x,y);ctx.rotate((o.rot||0)*Math.PI/180);
  ctx.font=(o.weight?o.weight+' ':'')+o.size+'px '+FONT;ctx.textAlign=o.align||'center';ctx.textBaseline='middle';ctx.lineJoin='round';
  if(o.stroke){ctx.strokeStyle=o.stroke;ctx.lineWidth=o.lw;ctx.strokeText(t,0,0);}
  ctx.fillStyle=o.fill||'#000';ctx.fillText(t,0,0);ctx.restore();}
function mount(l,t,w,h){const c=document.createElement('canvas');c.width=w;c.height=h;c.style.cssText=`left:${l}px;top:${t}px;width:${w}px;height:${h}px`;page.appendChild(c);return c;}
function panel(rect,datasets,scales,overlay,margins){
  const m=Object.assign({l:110,t:30,r:60,b:75},margins||{});
  const [L,T,R,B]=rect;const top=Math.max(0,T-m.t);
  const c=mount(L-m.l,top,R-L+m.l+m.r,B-top+m.b);
  return new Chart(c,{type:'scatter',data:{datasets:datasets.slice().reverse()},plugins:overlay?[{id:'overlay',afterDatasetsDraw:overlay}]:[],
    options:{responsive:false,animation:false,devicePixelRatio:1,events:[],layout:{padding:{left:m.l,right:m.r,top:T-top,bottom:m.b}},
      plugins:{legend:{display:false},title:{display:false},tooltip:{enabled:false}},scales}});
}
function mapScales(xAt,xPad,yl){return {
  x:tickAxis('x','bottom',-70,-20,1,6,2.6),xM:tickAxis('x','bottom',-70,-20,5,14,2.6),
  xT:tickAxis('x','top',-70,-20,1,6,2.6),xTM:tickAxis('x','top',-70,-20,5,14,2.6),
  y:tickAxis('y','left',40,65,1,6,2.6),yM:tickAxis('y','left',40,65,5,14,2.6),
  yR:tickAxis('y','right',40,65,1,6,2.6),yRM:tickAxis('y','right',40,65,5,14,2.6),
  xL:labelAxis('x','bottom',-70,-20,xAt,xTickLabels,51,xPad),
  yL:labelAxis('y','left',yl[0],yl[1],yTickValues,yTickValues.map(String),51,yl[2])};}
const layerSets=l=>l.map(([i,a])=>poly(a,palette[i]));
const terrainSets=()=>terrain.map(a=>line(a,'#000',1.8,{borderCapStyle:'butt'}));
const square=(x,y,c)=>[[20,'#fff'],[15.5,'#000'],[7.5,c]].map(([r,col])=>({data:[{x,y}],showLine:false,pointStyle:'rect',pointRadius:r,pointBackgroundColor:col,pointBorderWidth:0,clip:false}));
const contourSets=()=>[
  line(accum1cm,'#111',9),line(accum1cmInner,'#111',9),line(accum1cm,'#e4e4e4',5.5),line(accum1cmInner,'#e4e4e4',5.5),
  line(accum3cm,'#222',9),line(accum3cm,'#aaaaaa',6),
  line(accum8cm,'#000',10),line(accum8cm,'#666',6),line(accum8cmBlobA,'#000',9),line(accum8cmBlobA,'#666',5),line(accum8cmBlobB,'#000',9),line(accum8cmBlobB,'#666',5),
  line(accum14cm,'#000',7)];
const terrainText=(c,ch)=>terrainLabels.forEach(([t,x,y,r])=>drawText(c,t,ch.scales.x.getPixelForValue(x),ch.scales.y.getPixelForValue(y),{size:17,rot:r,stroke:'rgba(255,255,255,.75)',lw:3}));
const contourText=(labels)=>ch=>{const c=ch.ctx;terrainText(c,ch);labels.forEach(([t,x,y])=>drawText(c,t,ch.scales.x.getPixelForValue(x),ch.scales.y.getPixelForValue(y),{size:40,rot:-42,fill:'#fff',stroke:'#000',lw:11}));};

// ---------- panel 1 : accumulation ----------
panel([390,38,1214,771],[
  ...layerSets(accumLayers),...terrainSets(),
  line(accum1cm,'#dd00ff',7.5),line(accum1cmInner,'#dd00ff',7.5),
  line(stormArrow,'#000',7,{borderCapStyle:'butt'}),poly(stormHead,'#000'),
  line(depthArrow,'#000',10,{borderCapStyle:'butt'}),poly(depthHead,'#000'),
  Object.assign(line(legendBox,'#000',3),{fill:'shape',backgroundColor:'#fff'}),
  {data:legendSpeedX.map((x,i)=>({x,y:legendSpeedY[i]})),showLine:false,pointRadius:legendSpeeds.map(v=>7.9*Math.sqrt(v)),pointBackgroundColor:'#fff',pointBorderColor:'#000',pointBorderWidth:3,clip:false},
  {data:trackX.map((x,i)=>({x,y:trackY[i]})),showLine:true,fill:false,borderColor:'#000',borderWidth:9,borderDash:[20,13],tension:0,pointRadius:trackSpeed.map(v=>7.9*Math.sqrt(v)),pointBackgroundColor:'#bdbdbd',pointBorderColor:'#000',pointBorderWidth:4,clip:false},
  ...square(-60.2,47.85,'#ff7f00')
],mapScales(accumXLabelAt,16,[39.83,65.07,13]),ch=>{
  const c=ch.ctx,X=v=>ch.scales.x.getPixelForValue(v),Y=v=>ch.scales.y.getPixelForValue(v);
  terrainText(c,ch);
  timeLabelsRot.forEach(([t,x,y])=>drawText(c,t,X(x),Y(y),{size:38,rot:-45,stroke:'#fff',lw:7}));
  timeLabelsFlat.forEach(([t,x,y])=>drawText(c,t,X(x),Y(y),{size:38,stroke:'#fff',lw:6}));
  drawText(c,'Storm Motion',X(-57.3),Y(60.5),{size:52,rot:-38,stroke:'#fff',lw:4});
  drawText(c,'Depth',X(-69.7),Y(44.8),{size:38,align:'left',stroke:'#fff',lw:5});
  drawText(c,'Report',X(-69.7),Y(43.5),{size:38,align:'left',stroke:'#fff',lw:5});
  drawText(c,'1 cm',X(-30.6),Y(53.3),{size:50,rot:-42,fill:'#dd00ff',stroke:'#fff',lw:9});
  const sx=X(-43);const sy=Y(46);c.save();c.font='48px '+FONT;c.textBaseline='middle';c.fillStyle='#000';
  const a='Speed (m s';c.fillText(a,sx,sy);let w=c.measureText(a).width;
  c.font='30px '+FONT;c.fillText('-1',sx+w,sy-17);w+=c.measureText('-1').width;
  c.font='48px '+FONT;c.fillText(')',sx+w,sy);c.restore();
  legendSpeeds.forEach((v,i)=>drawText(c,String(v),X(legendSpeedX[i]),Y(41.6),{size:48}));
});

// ---------- panel 2 : ice ----------
panel([1978,45,2794,769],[
  ...layerSets(iceLayers),...terrainSets(),...contourSets(),...square(-60.16,47.9,'#ff7f00')
],mapScales(iceXLabelAt,15,[38.91,65.14,14]),contourText(iceContourLabels));

// ---------- panel 3 : flash density ----------
panel([391,959,1215,1694],[
  ...layerSets(flashLayers),...terrainSets(),...contourSets(),...square(-60.06,47.8,'#009966')
],mapScales(flashXLabelAt,16,[39.93,65.35,13]),contourText(flashContourLabels));

// ---------- panel 4 : time series ----------
const xMin=-0.39,xMax=210.3;
const s4={
  x:tickAxis('x','bottom',xMin,xMax,5,10,4.6),
  xM:Object.assign(tickAxis('x','bottom',xMin,xMax,30,19,4.6),{afterBuildTicks:s=>{s.ticks=timeTicks.map((_,i)=>({value:i*30}));}}),
  xT:tickAxis('x','top',xMin,xMax,500,0,4.6),
  xL:labelAxis('x','bottom',xMin,xMax,timeTicks.map((_,i)=>i*30),timeTicks,36,24),
  y:tickAxis('y','left',-0.03,13,1,8,4.6),yM:tickAxis('y','left',-0.03,13,2,15,4.6),
  yL:labelAxis('y','left',-0.51,12.91,[0,2,4,6,8,10,12],['0','2','4','6','8','10','12'],48,10),
  yZ:tickAxis('y','right',0.072,2.845,1,12,4.6),
  yZL:labelAxis('y','right',0.072,2.845,[.155,1.064,2.038,2.853],zdrTickLabels,40,8),
  yF:{axis:'y',type:'linear',display:false,min:0.9367,max:3.004}};
const byTime=(t,v)=>t.map((x,i)=>[x,v[i]]);
panel([1984,959,2800,1694],[
  Object.assign(line(byTime(zdrTimes,zdrValues),'#ff0000',10,{borderJoinStyle:'miter',borderCapStyle:'butt'}),{yAxisID:'yZ',label:'ZDR Col Height'}),
  Object.assign(line(byTime(accumTimes,accumValues),'#87ceeb',10,{borderJoinStyle:'bevel',borderCapStyle:'butt'}),{yAxisID:'y',label:'Maximum Accum'}),
  Object.assign(line(byTime(flashTimes,flashLog10),'#ffd700',9,{borderCapStyle:'butt'}),{yAxisID:'yF',label:'Flash Footprint'})
],s4,ch=>{
  const c=ch.ctx,ox=ch.canvas.offsetLeft,oy=ch.canvas.offsetTop;
  c.save();c.translate(-ox,-oy);
  c.fillStyle='#fff';c.fillRect(1993,971,795,45);c.strokeStyle='#000';c.lineWidth=3.5;c.strokeRect(1993,971,795,45);
  const yy=993;
  [[2001,2032,'#87ceeb'],[2285,2313,'#ff0000'],[2541,2570,'#ffd700']].forEach(([a,b,col])=>{c.strokeStyle=col;c.lineWidth=8;c.beginPath();c.moveTo(a,yy);c.lineTo(b,yy);c.stroke();});
  c.fillStyle='#000';c.textBaseline='middle';c.font='26px '+FONT;
  c.fillText('Maximum Accum',2037,yy);
  c.fillText('Z',2318,yy);let w=c.measureText('Z').width;
  c.font='20px '+FONT;c.fillText('DR',2318+w,yy+7);w+=c.measureText('DR').width;
  c.font='26px '+FONT;c.fillText(' Col Height',2318+w,yy);
  c.fillText('Flash Footprint',2575,yy);c.restore();
});

// far log axis for the flash footprint
const footMajor=[10,100,1000],footMinor=[20,30,40,50,60,70,80,90,200,300,400,500,600,700,800,900];
const footAxis=(vals,len,lab)=>({position:'right',axis:'y',type:'logarithmic',min:10,max:1000,afterFit:zero,afterBuildTicks:s=>{s.ticks=vals.map(v=>({value:v}));},
  grid:{drawOnChartArea:false,drawTicks:true,tickLength:-len,tickWidth:5,tickColor:'#000',z:1},border:{display:true,width:5,color:'#000',z:1},
  ticks:{display:lab,autoSkip:false,padding:27,color:'#000',font:{family:FONT,size:40},callback:v=>v===10?'0':String(v)}});
panel([2978,961,2980,1672],[{data:[],showLine:false}],{
  x:{type:'linear',display:false,min:0,max:1},
  y:footAxis(footMajor,15,true),yMin:footAxis(footMinor,9,false)},null,{l:30,r:160,t:30,b:30});

// ---------- colour bars ----------
function colorbar(rect,colors,labels,lo,hi,pad,size){
  const n=colors.length,[L,T,R,B]=rect,top=Math.max(0,T-30);
  const c=mount(L-90,top,R-L+100,B-top+50);
  const ds=[{data:[[0,n]],backgroundColor:'rgba(0,0,0,0)',borderColor:'#222',borderWidth:1.5,borderSkipped:false,barPercentage:1,categoryPercentage:1,grouped:false}];
  colors.forEach((col,i)=>ds.push({data:[[i,i+1]],backgroundColor:col,borderWidth:0,barPercentage:1,categoryPercentage:1,grouped:false}));
  new Chart(c,{type:'bar',data:{labels:['scale'],datasets:ds},options:{responsive:false,animation:false,devicePixelRatio:1,events:[],
    layout:{padding:{left:90,right:10,top:T-top,bottom:50}},plugins:{legend:{display:false},tooltip:{enabled:false}},
    scales:{x:{type:'category',display:false},y:{type:'linear',display:false,min:0,max:n},
      yL:labelAxis('y','left',lo,hi,labels.map((_,i)=>i),labels,size,pad)}}});
}
colorbar([1315,36,1373,788],palette.slice(3),accumBarLabels,0,12,10,40);
colorbar([2894,43,2952,785],palette,iceBarLabels,0.08,14.96,6,38);
colorbar([1316,957,1374,1706],palette,flashBarLabels,0.24,15.24,10,38);

// ---------- titles ----------
function title(x,y,rot,html,size,extra){const d=document.createElement('div');d.className='t';d.innerHTML=html;
  d.style.cssText=`left:${x}px;top:${y}px;font-size:${size}px;transform:translate(-50%,-50%) rotate(${rot}deg);${extra||''}`;page.appendChild(d);}
title(93,894,-90,'Deep Accumulation',106,'font-weight:bold;color:#1e8ed0');
title(260,406,-90,'Distance (km from radar)',57);
title(800,870,0,'Distance (km from radar)',57);
title(1860,396,-90,'Distance (km from radar)',54.5);
title(2393,875,0,'Distance (km from radar)',54.5);
title(260,1388,-90,'Distance (km from radar)',57);
title(800,1792,0,'Distance (km from radar)',57);
title(1861,1323,-90,'Maximum Accumulation (cm)',49);
title(2389,1792,0,'Time (UTC)',58);
title(2885,1361,-90,'ZDR Column Height Above 0<sup>o</sup>C (km)',47.5);
title(3104,1323,-90,'Flash Footprint (km<sup>2</sup>)',51);
title(1406,417,-90,'Radar Derived',52);
title(1470,417,-90,'Accumulation<sup>5</sup> (cm)',54);
title(2984,415,-90,'Vertically Integrated Ice',51);
title(3053,413,-90,'(kg m<sup>-2</sup>)',51);
title(1406,1335,-90,'Flash Extent Density',53);
title(1475,1336,-90,'(Flashes km<sup>-2</sup> min<sup>-1</sup>)',54);
</script></body></html>
